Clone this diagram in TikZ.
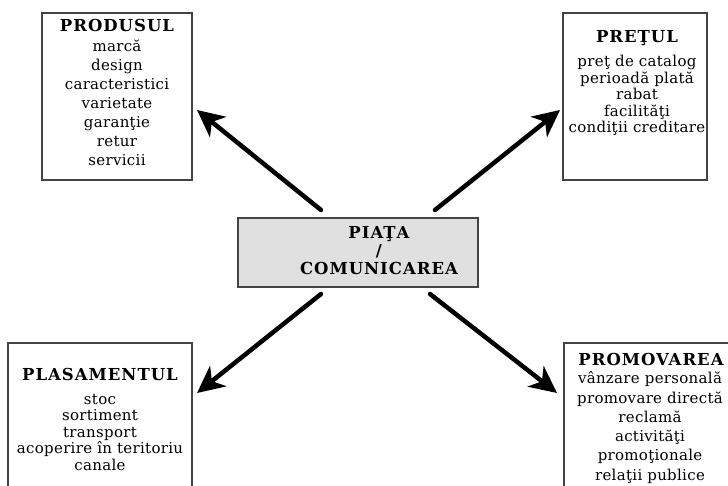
\documentclass[tikz,border=0pt]{standalone}
\usepackage{fontspec}
\setmainfont{DejaVu Serif}
\newfontfamily\bodyfont[LetterSpace=2]{DejaVu Serif}
\newfontfamily\titlefont[LetterSpace=6]{DejaVu Serif}
\usetikzlibrary{arrows.meta}
\definecolor{boxgray}{HTML}{E0E0E0}
\definecolor{edgecol}{HTML}{444444}
\begin{document}
\begin{tikzpicture}[x=1pt,y=-1pt,
  box/.style={draw=edgecol, line width=1.3pt, anchor=north west, inner sep=0pt, outer sep=0pt},
  txt/.style={anchor=base, inner sep=0pt, font=\bodyfont\fontsize{15}{17}\selectfont},
  ttl/.style={anchor=base, inner sep=0pt, font=\titlefont\bfseries\fontsize{16.5}{18}\selectfont},
  bigarrow/.style={line width=4.5pt, line cap=round, -{Stealth[length=27pt,width=26pt,inset=8pt]}}]
\useasboundingbox (0,0) rectangle (728,486);
\clip (0,0) rectangle (728,486);

% boxes
\node[box, minimum width=150pt, minimum height=167pt] (prod) at (42,13) {};
\node[box, minimum width=144pt, minimum height=167pt] (pret) at (563,13) {};
\node[box, minimum width=184pt, minimum height=170pt] (plas) at (8,343) {};
\node[box, minimum width=180pt, minimum height=170pt] (prom) at (564,343) {};
\node[box, fill=boxgray, minimum width=240pt, minimum height=69pt] (piata) at (238,218) {};

% PRODUSUL
\node[ttl] (prodT) at (117,32) {PRODUSUL};
\node[txt] (prod1) at (117,52) {marcă};
\node[txt] (prod2) at (117,71) {design};
\node[txt] (prod3) at (117,90) {caracteristici};
\node[txt] (prod4) at (117,109) {varietate};
\node[txt] (prod5) at (117,128) {garanţie};
\node[txt] (prod6) at (117,147) {retur};
\node[txt] (prod7) at (117,166) {servicii};

% PRETUL
\node[ttl] (pretT) at (637,43) {PREŢUL};
\node[txt] (pret1) at (637,67) {preţ de catalog};
\node[txt] (pret2) at (637,83.5) {perioadă plată};
\node[txt] (pret3) at (637,100) {rabat};
\node[txt] (pret4) at (637,116.5) {facilităţi};
\node[txt] (pret5) at (637,133) {condiţii creditare};

% PLASAMENTUL
\node[ttl] (plasT) at (100,380) {PLASAMENTUL};
\node[txt] (plas1) at (100,404) {stoc};
\node[txt] (plas2) at (100,420) {sortiment};
\node[txt] (plas3) at (100,437) {transport};
\node[txt] (plas4) at (100,453) {acoperire în teritoriu};
\node[txt] (plas5) at (100,470) {canale};

% PROMOVAREA
\node[ttl] (promT) at (651,365) {PROMOVAREA};
\node[txt] (prom1) at (650,383) {vânzare personală};
\node[txt] (prom2) at (650,403) {promovare directă};
\node[txt] (prom3) at (650,422) {reclamă};
\node[txt] (prom4) at (650,441) {activităţi};
\node[txt] (prom5) at (650,460) {promoţionale};
\node[txt] (prom6) at (650,480) {relaţii publice};

% PIATA
\node[ttl] (piata1) at (379,239) {PIAŢA};
\node[ttl] (piata2) at (379,257) {/};
\node[ttl] (piata3) at (379,275) {COMUNICAREA};

% arrows
\coordinate (a1s) at (321,210);
\coordinate (a1e) at (197,110);
\coordinate (a2s) at (435,210);
\coordinate (a2e) at (560,110);
\coordinate (a3s) at (321,294);
\coordinate (a3e) at (197,393);
\coordinate (a4s) at (430,294);
\coordinate (a4e) at (557,393);
\draw[bigarrow] (a1s) -- (a1e);
\draw[bigarrow] (a2s) -- (a2e);
\draw[bigarrow] (a3s) -- (a3e);
\draw[bigarrow] (a4s) -- (a4e);
\end{tikzpicture}
\end{document}
